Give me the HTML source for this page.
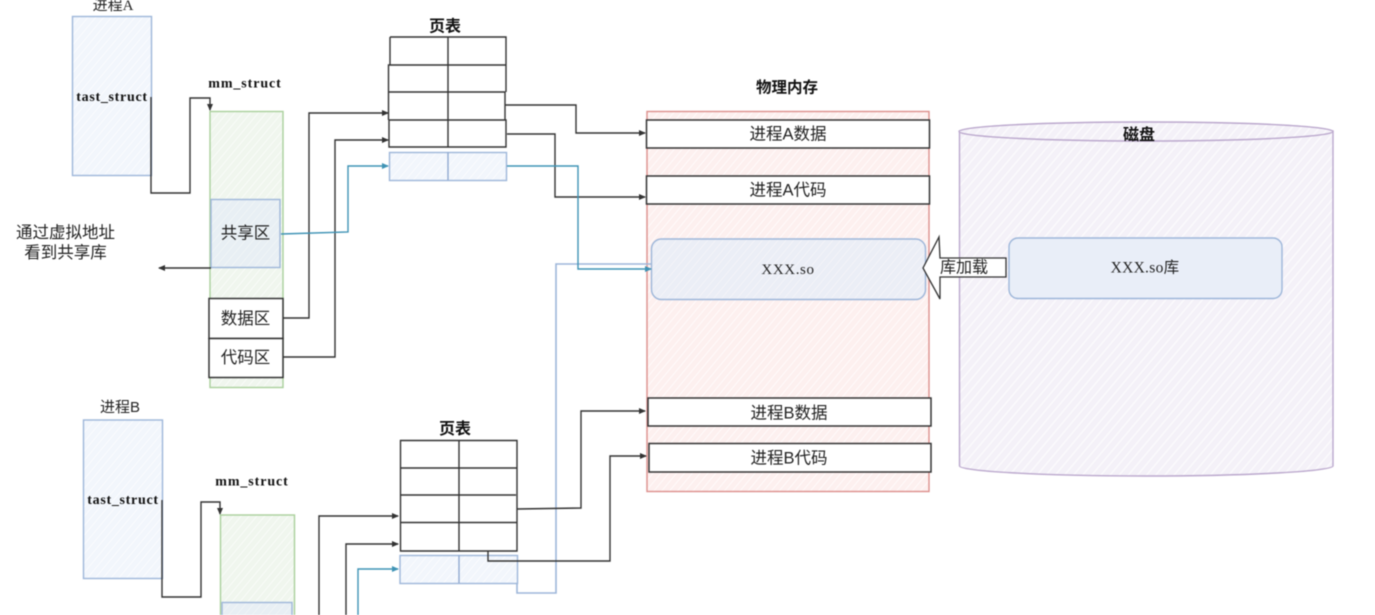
<!DOCTYPE html>
<html><head><meta charset="utf-8">
<style>
html,body{margin:0;padding:0;background:#fff;width:1375px;height:615px;overflow:hidden}
svg{display:block;filter:blur(.45px)}
text{font-family:"Liberation Sans","Noto Sans CJK SC",sans-serif;text-anchor:middle;dominant-baseline:central;fill:#222}
.b{font-weight:700;fill:#111}
.s{font-family:"Liberation Serif","Noto Sans CJK SC",serif}
.c{fill:none;stroke:#333;stroke-width:1.4}
.t{fill:none;stroke:#3f93b5;stroke-width:1.4}
.w{fill:#fff;stroke:#333;stroke-width:1.5}
</style></head><body>
<svg width="1375" height="615" viewBox="0 0 1375 615" xmlns="http://www.w3.org/2000/svg">
<defs>
<pattern id="hb" width="6" height="6" patternUnits="userSpaceOnUse" patternTransform="rotate(40)"><rect width="6" height="6" fill="#f2f6fc"/><rect width="1" height="6" fill="#fafcfe"/></pattern>
<pattern id="hg" width="6" height="6" patternUnits="userSpaceOnUse" patternTransform="rotate(40)"><rect width="6" height="6" fill="#f0f6ee"/><rect width="1" height="6" fill="#f9fcf8"/></pattern>
<pattern id="hr" width="6" height="6" patternUnits="userSpaceOnUse" patternTransform="rotate(40)"><rect width="6" height="6" fill="#fdf0ef"/><rect width="1" height="6" fill="#fffafa"/></pattern>
<pattern id="hp" width="7" height="7" patternUnits="userSpaceOnUse" patternTransform="rotate(40)"><rect width="7" height="7" fill="#f4f1f8"/><rect width="1.500" height="7" fill="#fbfafc"/></pattern>
<pattern id="hx" width="6" height="6" patternUnits="userSpaceOnUse" patternTransform="rotate(40)"><rect width="6" height="6" fill="#ebeef6"/><rect width="1" height="6" fill="#f3f3f8"/></pattern>
<pattern id="hs" width="6" height="6" patternUnits="userSpaceOnUse" patternTransform="rotate(40)"><rect width="6" height="6" fill="#e8eff4"/><rect width="1" height="6" fill="#eff4f6"/></pattern>
<marker id="a" markerWidth="7" markerHeight="6" refX="6" refY="3" orient="auto" markerUnits="userSpaceOnUse"><path d="M0,0L7,3L0,6z" fill="#333"/></marker>
<marker id="at" markerWidth="7" markerHeight="6" refX="6" refY="3" orient="auto" markerUnits="userSpaceOnUse"><path d="M0,0L7,3L0,6z" fill="#3f93b5"/></marker>
</defs>

<!-- Process A -->
<rect x="72.500" y="16.500" width="79" height="159" fill="url(#hb)" stroke="#9db6d9" stroke-width="1.400"/>
<text x="113" y="6" font-size="15" class="s">进程A</text>
<text x="112" y="97.500" font-size="14" class="s b" letter-spacing=".7">tast_struct</text>
<path class="c" d="M151,97V193H190V98H210V110" marker-end="url(#a)"/>
<text x="245" y="84" font-size="14" class="s b" letter-spacing=".9">mm_struct</text>
<rect x="210" y="111.500" width="73" height="276" fill="url(#hg)" stroke="#a9cf9b" stroke-width="1.400"/>
<rect x="211" y="199.500" width="69" height="68" fill="url(#hs)" stroke="#9db6d9" stroke-width="1.400"/>
<text x="245.500" y="233.500" font-size="16.500">共享区</text>
<rect class="w" x="209" y="298.500" width="74" height="40"/>
<text x="245.500" y="319" font-size="16.500">数据区</text>
<rect class="w" x="209" y="338.500" width="74" height="39"/>
<text x="245.500" y="358" font-size="16.500">代码区</text>
<path class="c" d="M211,268H159" marker-end="url(#a)"/>
<text x="65.500" y="233" font-size="16.500">通过虚拟地址</text>
<text x="65.500" y="253" font-size="16.500">看到共享库</text>
<path class="c" d="M283,318H309V113H388" marker-end="url(#a)"/>
<path class="c" d="M283,357H335V140H388" marker-end="url(#a)"/>
<path class="t" d="M281,234L348,232V166H388" marker-end="url(#at)"/>

<!-- Page table A -->
<text x="445" y="27" font-size="16" class="b">页表</text>
<path fill="none" stroke="#333" stroke-width="1.400" d="M390,37H506V65H388.500V92H505V120H389V147H506V120H389M390,37V65M388.500,92V120M506,65V92M448,37V147"/>
<rect x="389.500" y="152.500" width="117" height="28" fill="url(#hb)" stroke="#9db6d9" stroke-width="1.400"/>
<path d="M448,152V180" stroke="#8fa9cf" stroke-width="1.400"/>

<!-- Memory -->
<text x="787" y="88" font-size="15.500" class="b">物理内存</text>
<rect x="647" y="111.500" width="282" height="380" fill="url(#hr)" stroke="#dc8f8c" stroke-width="1.400"/>
<rect class="w" x="646.500" y="120" width="283" height="28"/>
<text x="788" y="134.500" font-size="16.500">进程A数据</text>
<rect class="w" x="646.500" y="176" width="283" height="28"/>
<text x="788" y="190.500" font-size="16.500">进程A代码</text>
<rect x="651.500" y="239" width="274" height="60.500" rx="10" fill="url(#hx)" stroke="#9db6d9" stroke-width="1.400"/>
<text x="788" y="270" font-size="15" class="s" letter-spacing=".6">XXX.so</text>
<rect class="w" x="648" y="398" width="283" height="28"/>
<text x="789" y="413.500" font-size="16.500">进程B数据</text>
<rect class="w" x="649" y="443.500" width="282" height="28.500"/>
<text x="789" y="458.500" font-size="16.500">进程B代码</text>

<!-- Disk -->
<path d="M959.500,131V466C959.500,471 1040,476 1146,476S1333,471 1333,466V131Z" fill="url(#hp)" stroke="#bba8cd" stroke-width="1.400"/>
<ellipse cx="1146" cy="131.500" rx="187" ry="9.500" fill="url(#hp)" stroke="#bba8cd" stroke-width="1.400"/>
<text x="1139" y="135.500" font-size="16" class="b">磁盘</text>
<rect x="1009" y="238" width="273" height="60.500" rx="9" fill="#e9eef8" stroke="#9db6d9" stroke-width="1.400"/>
<text x="1145" y="268" font-size="15.500" class="s" letter-spacing=".3">XXX.so库</text>

<!-- Load arrow -->
<path d="M923,268L939,237L940,258H1006V277H940L940,299Z" fill="#fff" stroke="#333" stroke-width="1.300"/>
<text x="964" y="268" font-size="16">库加载</text>

<!-- Connectors to memory -->
<path class="c" d="M505,105H576V133H645" marker-end="url(#a)"/>
<path class="c" d="M507,134H555V197H645" marker-end="url(#a)"/>
<path fill="none" stroke="#9db6d9" stroke-width="1.600" d="M651,264L556,264V593H517V570"/>
<path class="t" d="M507,166H578V269H651" marker-end="url(#at)"/>

<!-- Process B -->
<rect x="83.500" y="420" width="79" height="158.500" fill="url(#hb)" stroke="#9db6d9" stroke-width="1.400"/>
<text x="120" y="407.500" font-size="15">进程B</text>
<text x="123" y="500.500" font-size="14" class="s b" letter-spacing=".7">tast_struct</text>
<path class="c" d="M162,500V597H201V502H220V514" marker-end="url(#a)"/>
<text x="252" y="482" font-size="14" class="s b" letter-spacing=".9">mm_struct</text>
<rect x="220.500" y="515" width="74" height="110" fill="url(#hg)" stroke="#a9cf9b" stroke-width="1.400"/>
<rect x="222" y="602.500" width="70" height="30" fill="url(#hs)" stroke="#9db6d9" stroke-width="1.400"/>
<path class="c" d="M319,615V516H398" marker-end="url(#a)"/>
<path class="c" d="M346,615V544H398" marker-end="url(#a)"/>
<path class="t" d="M358,615V569H398" marker-end="url(#at)"/>

<!-- Page table B -->
<text x="455" y="429.500" font-size="16" class="b">页表</text>
<path fill="none" stroke="#333" stroke-width="1.400" d="M400.500,440.500H517V551H400.500ZM400,468H517M400,495H516M400,522.500H517M459,440V551"/>
<rect x="400" y="555.500" width="117.500" height="28" fill="url(#hb)" stroke="#9db6d9" stroke-width="1.400"/>
<path d="M459,555V583" stroke="#8fa9cf" stroke-width="1.400"/>
<path class="c" d="M517,509L581,508V411H645" marker-end="url(#a)"/>
<path class="c" d="M488,551V561H610V456H646" marker-end="url(#a)"/>
</svg>
</body></html>
